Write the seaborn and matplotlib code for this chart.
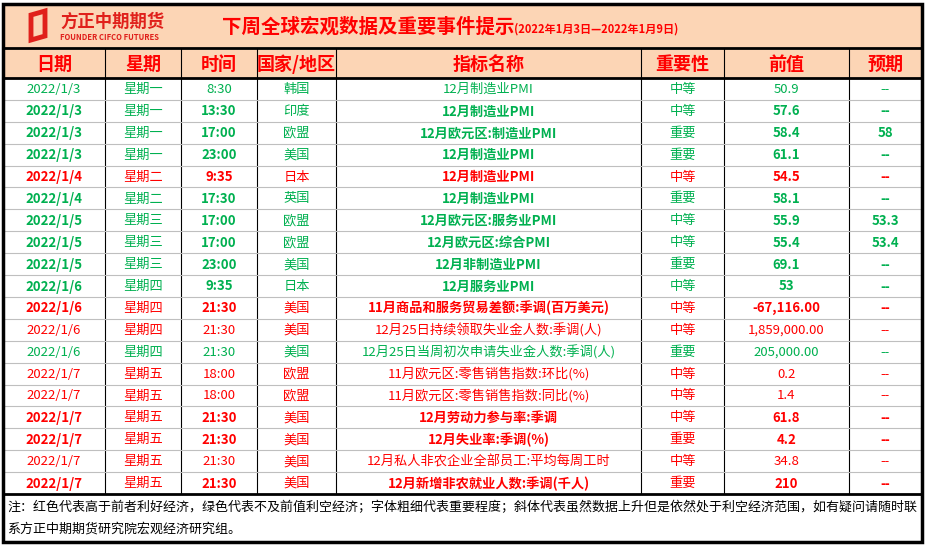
import matplotlib.pyplot as plt
import matplotlib.patches as mpatches
import seaborn as sns

# table data
dates = ["2022/1/3", "2022/1/3", "2022/1/3", "2022/1/3", "2022/1/4", "2022/1/4", "2022/1/5", "2022/1/5",
         "2022/1/5", "2022/1/6", "2022/1/6", "2022/1/6", "2022/1/6", "2022/1/7", "2022/1/7", "2022/1/7",
         "2022/1/7", "2022/1/7", "2022/1/7"]
weekdays = ["星期一"] * 4 + ["星期二"] * 2 + ["星期三"] * 3 + ["星期四"] * 4 + ["星期五"] * 6
times = ["8:30", "13:30", "17:00", "23:00", "9:35", "17:30", "17:00", "17:00", "23:00", "9:35", "21:30",
         "21:30", "21:30", "18:00", "18:00", "21:30", "21:30", "21:30", "21:30"]
countries = ["韩国", "印度", "欧盟", "美国", "日本", "英国", "欧盟", "欧盟", "美国", "日本", "美国", "美国",
             "美国", "欧盟", "欧盟", "美国", "美国", "美国", "美国"]
indicators = ["12月制造业PMI", "12月制造业PMI", "12月欧元区:制造业PMI", "12月制造业PMI", "12月制造业PMI",
              "12月制造业PMI", "12月欧元区:服务业PMI", "12月欧元区:综合PMI", "12月非制造业PMI", "12月服务业PMI",
              "11月商品和服务贸易差额:季调(百万美元)", "12月25日持续领取失业金人数:季调(人)",
              "12月25日当周初次申请失业金人数:季调(人)", "11月欧元区:零售销售指数:环比(%)",
              "11月欧元区:零售销售指数:同比(%)", "12月劳动力参与率:季调", "12月失业率:季调(%)",
              "12月私人非农企业全部员工:平均每周工时", "12月新增非农就业人数:季调(千人)"]
importance = ["中等", "中等", "重要", "重要", "中等", "重要", "中等", "中等", "重要", "中等", "中等", "中等",
              "重要", "中等", "中等", "中等", "重要", "中等", "重要"]
previous = ["50.9", "57.6", "58.4", "61.1", "54.5", "58.1", "55.9", "55.4", "69.1", "53", "-67,116.00",
            "1,859,000.00", "205,000.00", "0.2", "1.4", "61.8", "4.2", "34.8", "210"]
forecast = ["--", "--", "58", "--", "--", "--", "53.3", "53.4", "--", "--", "--", "--", "--", "--", "--",
            "--", "--", "--", "--"]
good = [False, False, False, False, True, False, False, False, False, False, True, True, False, True, True,
        True, True, True, True]
bold = [False, True, True, True, True, True, True, True, True, True, True, False, False, False, False,
        True, True, False, True]

headers = ["日期", "星期", "时间", "国家/地区", "指标名称", "重要性", "前值", "预期"]
col_edges = [3, 105, 181, 257, 336, 641, 724, 849, 922]

sns.set_theme(style="white", font="Noto Sans CJK SC")
RED = "#FF0000"
GREEN = "#00B050"
PEACH = "#FCD5B5"

fig = plt.figure(figsize=(9.25, 5.46), dpi=100)
ax = fig.add_axes([0, 0, 1, 1])
ax.set_xlim(0, 925)
ax.set_ylim(546, 0)
ax.axis("off")

top, title_bot, head_bot = 4, 48, 78
row_h = (494 - head_bot) / len(dates)
body_bot = head_bot + row_h * len(dates)
note_bot = 542

ax.add_patch(mpatches.Rectangle((3, top), 919, head_bot - top, color=PEACH, zorder=0))

# grid lines
for x in col_edges[1:-1]:
    ax.plot([x, x], [title_bot, body_bot], color="black", lw=0.8)
for i in range(1, len(dates)):
    y = head_bot + i * row_h
    ax.plot([3, 922], [y, y], color="#BFBFBF", lw=0.8)
for y in [title_bot, head_bot, body_bot]:
    ax.plot([3, 922], [y, y], color="black", lw=2)
ax.add_patch(mpatches.Rectangle((3, top), 919, note_bot - top, fill=False, ec="black", lw=2.5, zorder=5))

# logo
ax.add_patch(mpatches.Polygon([(31, 15), (45, 11), (45, 36), (31, 40)], closed=True, fill=False,
                              ec="#E0201B", lw=3.5))
ax.text(60, 22, "方正中期期货", color="#E0201B", fontsize=12.5, fontweight="bold", va="center")
ax.text(60, 38, "FOUNDER CIFCO FUTURES", color="#E0201B", fontsize=5.5, fontweight="bold", va="center")
ax.text(222, 27, "下周全球宏观数据及重要事件提示", color=RED, fontsize=14, fontweight="bold", va="center")
ax.text(514, 29, "(2022年1月3日—2022年1月9日)", color=RED, fontsize=8, fontweight="bold", va="center")

centers = [(a + b) / 2 for a, b in zip(col_edges[:-1], col_edges[1:])]
for c, h in zip(centers, headers):
    ax.text(c, (title_bot + head_bot) / 2 + 1, h, color=RED, fontsize=13, fontweight="bold",
            ha="center", va="center")

for i in range(len(dates)):
    y = head_bot + (i + 0.5) * row_h + 0.5
    color = RED if good[i] else GREEN
    w = "bold" if bold[i] else "normal"
    cells = [(dates[i], w), (weekdays[i], "normal"), (times[i], w), (countries[i], "normal"),
             (indicators[i], w), (importance[i], "normal"), (previous[i], w), (forecast[i], w)]
    for c, (txt, ww) in zip(centers, cells):
        ax.text(c, y, txt, color=color, fontsize=9.5, fontweight=ww, ha="center", va="center")

ax.text(7, 508, "注：红色代表高于前者利好经济，绿色代表不及前值利空经济；字体粗细代表重要程度；斜体代表虽然数据上升但是依然处于利空经济范围，如有疑问请随时联",
        fontsize=9.35, va="center", color="black")
ax.text(7, 529, "系方正中期期货研究院宏观经济研究组。", fontsize=9.35, va="center", color="black")

fig.savefig("out.png", dpi=100)
